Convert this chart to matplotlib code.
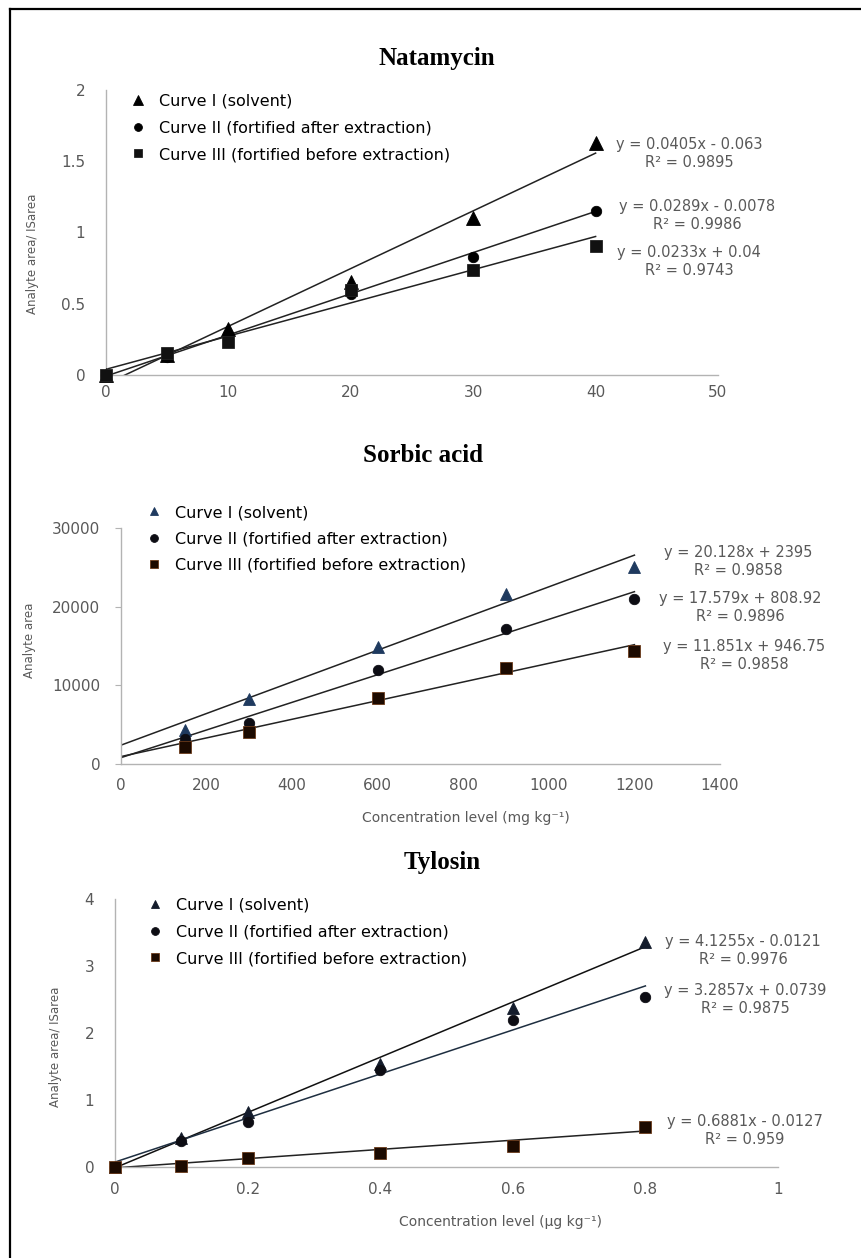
import numpy as np
import matplotlib
matplotlib.use("Agg")
import matplotlib.pyplot as plt
from matplotlib.lines import Line2D
from matplotlib.ticker import FuncFormatter

W, H = 862, 1258

# legend labels (same for the three panels)
curve_labels = ["Curve I (solvent)",
                "Curve II (fortified after extraction)",
                "Curve III (fortified before extraction)"]

# Natamycin
nat_x = [0, 5, 10, 20, 30, 40]
nat_curve1 = [0, 0.14, 0.32, 0.65, 1.10, 1.63]
nat_curve2 = [0, 0.125, 0.28, 0.57, 0.83, 1.15]
nat_curve3 = [0, 0.155, 0.23, 0.60, 0.74, 0.905]
nat_slopes = [0.0405, 0.0289, 0.0233]
nat_intercepts = [-0.063, -0.0078, 0.04]
nat_eqs = ["y = 0.0405x - 0.063\nR² = 0.9895",
           "y = 0.0289x - 0.0078\nR² = 0.9986",
           "y = 0.0233x + 0.04\nR² = 0.9743"]
nat_xticks = [0, 10, 20, 30, 40, 50]
nat_yticks = [0, 0.5, 1, 1.5, 2]

# Sorbic acid
sorb_x = [150, 300, 600, 900, 1200]
sorb_curve1 = [4320, 8260, 14870, 21610, 25040]
sorb_curve2 = [3180, 5210, 11950, 17160, 20970]
sorb_curve3 = [2160, 4070, 8390, 12200, 14360]
sorb_slopes = [20.128, 17.579, 11.851]
sorb_intercepts = [2395, 808.92, 946.75]
sorb_eqs = ["y = 20.128x + 2395\nR² = 0.9858",
            "y = 17.579x + 808.92\nR² = 0.9896",
            "y = 11.851x + 946.75\nR² = 0.9858"]
sorb_xticks = [0, 200, 400, 600, 800, 1000, 1200, 1400]
sorb_yticks = [0, 10000, 20000, 30000]

# Tylosin
tylo_x = [0, 0.1, 0.2, 0.4, 0.6, 0.8]
tylo_curve1 = [0, 0.44, 0.82, 1.54, 2.37, 3.36]
tylo_curve2 = [0, 0.39, 0.67, 1.45, 2.20, 2.54]
tylo_curve3 = [0, 0.02, 0.13, 0.21, 0.31, 0.59]
tylo_slopes = [4.1255, 3.2857, 0.6881]
tylo_intercepts = [-0.0121, 0.0739, -0.0127]
tylo_eqs = ["y = 4.1255x - 0.0121\nR² = 0.9976",
            "y = 3.2857x + 0.0739\nR² = 0.9875",
            "y = 0.6881x - 0.0127\nR² = 0.959"]
tylo_xticks = [0, 0.2, 0.4, 0.6, 0.8, 1]
tylo_yticks = [0, 1, 2, 3, 4]

GRAY = "#595959"
AXIS = "#b3b3b3"
plt.rcParams["font.family"] = ["DejaVu Sans"]


def fx(px):
    return px / W


def fy(py):
    return 1 - py / H


def make_axes(left, right, top, bottom):
    return fig.add_axes([fx(left), fy(bottom), (right - left) / W, (bottom - top) / H])


def draw_panel(ax, x, curves, slopes, intercepts, colors, edges, sizes, line_colors,
               xlim, ylim, xticks, yticks, ytick_len, ypad, xpad):
    markers = ["^", "o", "s"]
    handles = []
    for i in range(3):
        xs = np.array([0, max(x)])
        ax.plot(xs, slopes[i] * xs + intercepts[i], color=line_colors[i], lw=1.1, zorder=2)
    for i in range(3):
        h, = ax.plot(x, curves[i], linestyle="none", marker=markers[i], ms=sizes[i],
                     color=colors[i], mec=edges[i], mew=0.6, clip_on=False, zorder=3)
        handles.append(h)
    ax.set_xlim(*xlim)
    ax.set_ylim(*ylim)
    ax.set_xticks(xticks)
    ax.set_yticks(yticks)
    fmt = FuncFormatter(lambda v, p: "%g" % v)
    ax.xaxis.set_major_formatter(fmt)
    ax.yaxis.set_major_formatter(fmt)
    for s in ["top", "right"]:
        ax.spines[s].set_visible(False)
    for s in ["left", "bottom"]:
        ax.spines[s].set_color(AXIS)
        ax.spines[s].set_linewidth(1.0)
    ax.tick_params(axis="y", length=ytick_len, color=AXIS, pad=ypad, labelsize=11, labelcolor=GRAY)
    ax.tick_params(axis="x", length=0, pad=xpad, labelsize=11, labelcolor=GRAY)
    ax.set_facecolor("none")
    return handles


def add_legend(ax, handles, mx, my):
    fs = 11.5
    half = fs * 100 / 72 / 2
    ax.legend(handles, curve_labels, loc="center left",
              bbox_to_anchor=(fx(mx - half), fy(my)), bbox_transform=fig.transFigure,
              frameon=False, fontsize=fs, labelspacing=0.72, handlelength=1.0,
              handletextpad=0.8, borderpad=0, borderaxespad=0, markerscale=0.75,
              labelcolor="black")


def add_eqs(eqs, pos):
    for text, (cx, cy) in zip(eqs, pos):
        fig.text(fx(cx), fy(cy + 8.5), text, ha="center", va="center", ma="center",
                 fontsize=10.5, color=GRAY, linespacing=1.2)


fig = plt.figure(figsize=(W / 100, H / 100), dpi=100)

# Natamycin
ax1 = make_axes(106, 718, 90, 375)
h1 = draw_panel(ax1, nat_x, [nat_curve1, nat_curve2, nat_curve3], nat_slopes, nat_intercepts,
                ["black", "black", "#111111"], ["black", "black", "#222222"], [10, 7.5, 8],
                ["#222222", "#222222", "#222222"],
                (0, 50), (0, 2), nat_xticks, nat_yticks, 0, 15, 7)
add_legend(ax1, h1, 138, 128)
add_eqs(nat_eqs, [(689, 145), (697, 207), (689, 253)])
fig.text(fx(437), fy(58), "Natamycin", ha="center", va="center",
         family="Liberation Serif", weight="bold", fontsize=18)
fig.text(fx(33), fy(254), "Analyte area/ ISarea", rotation=90, ha="center", va="center",
         fontsize=8.5, color=GRAY)

# Sorbic acid
ax2 = make_axes(121, 720, 528, 764)
h2 = draw_panel(ax2, sorb_x, [sorb_curve1, sorb_curve2, sorb_curve3], sorb_slopes, sorb_intercepts,
                ["#1f3a5f", "#0d0d14", "#1c0a00"], ["#1f3a5f", "#0d0d14", "#6b3a1a"], [8.5, 7.5, 8],
                ["#222222", "#222222", "#222222"],
                (0, 1400), (0, 30000), sorb_xticks, sorb_yticks, 4, 11, 10)
add_legend(ax2, h2, 154, 539)
add_eqs(sorb_eqs, [(738, 553), (740, 599), (744, 647)])
fig.text(fx(423), fy(455), "Sorbic acid", ha="center", va="center",
         family="Liberation Serif", weight="bold", fontsize=18)
fig.text(fx(30), fy(640), "Analyte area", rotation=90, ha="center", va="center",
         fontsize=8.5, color=GRAY)
fig.text(fx(466), fy(818), "Concentration level (mg kg⁻¹)", ha="center", va="center",
         fontsize=10, color=GRAY)

# Tylosin
ax3 = make_axes(115, 778, 899, 1167)
h3 = draw_panel(ax3, tylo_x, [tylo_curve1, tylo_curve2, tylo_curve3], tylo_slopes, tylo_intercepts,
                ["#141c2c", "#0d0d14", "#1c0a00"], ["#141c2c", "#0d0d14", "#6b3a1a"], [8.5, 7.5, 8],
                ["#111111", "#1e2e40", "#222222"],
                (0, 1), (0, 4), tylo_xticks, tylo_yticks, 0, 15, 11)
add_legend(ax3, h3, 155, 932)
add_eqs(tylo_eqs, [(743, 942), (745, 991), (745, 1122)])
fig.text(fx(442), fy(863), "Tylosin", ha="center", va="center",
         family="Liberation Serif", weight="bold", fontsize=18)
fig.text(fx(56), fy(1047), "Analyte area/ ISarea", rotation=90, ha="center", va="center",
         fontsize=8.5, color=GRAY)
fig.text(fx(501), fy(1222), "Concentration level (µg kg⁻¹)", ha="center", va="center",
         fontsize=10, color=GRAY)

# frame of the cropped figure (top and left edges only)
fig.add_artist(Line2D([fx(10), fx(10)], [0, fy(9)], transform=fig.transFigure, color="black", lw=1.6))
fig.add_artist(Line2D([fx(10), 1], [fy(9), fy(9)], transform=fig.transFigure, color="black", lw=1.6))

fig.savefig("out.png", dpi=100, facecolor="white")
